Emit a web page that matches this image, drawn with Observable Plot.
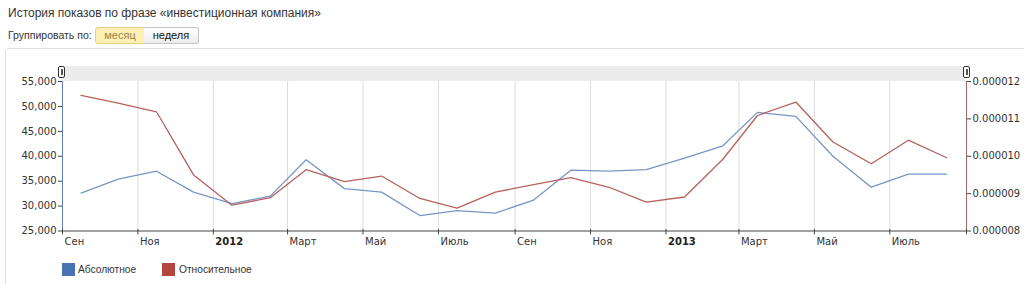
<!DOCTYPE html>
<html>
<head>
<meta charset="utf-8">
<script src="https://cdn.jsdelivr.net/npm/d3@7"></script>
<script src="https://cdn.jsdelivr.net/npm/@observablehq/plot@0.6"></script>
<style>
  html, body { margin: 0; padding: 0; background: #fff; width: 1024px; height: 284px; overflow: hidden; }
  body { position: relative; font-family: "Liberation Sans", Arial, sans-serif; }
  .abs { position: absolute; }
  #title { left: 8px; top: 7px; font-size: 12px; line-height: 12px; color: #333; white-space: nowrap; }
  #group { left: 8px; top: 30px; font-size: 10.5px; line-height: 11px; color: #333; white-space: nowrap; }
  .btn { top: 27px; height: 15px; font-size: 11px; line-height: 15px; text-align: center; box-sizing: content-box; }
  #b1 { left: 95px; width: 48px; background: #fdf0b4; border: 1px solid #e3cf86; border-radius: 3px 0 0 3px; color: #9a8444; }
  #b2 { left: 144px; width: 54px; background: linear-gradient(#ffffff, #ececec); border: 1px solid #c4c4c4; border-left: none; border-radius: 0 3px 3px 0; color: #111; }
  #box { left: 5px; top: 48px; width: 1100px; height: 300px; border: 1px solid #e0e0e0; border-radius: 3px; }
  #chart { left: 0; top: 50px; }
  .handle { top: 66px; width: 5px; height: 10px; border: 1px solid #333; border-radius: 2px; background: #fff; }
  .handle::after { content: ""; position: absolute; left: 1.5px; top: 2px; width: 2px; height: 6px; background: #555; }
  .sw { top: 263px; width: 13px; height: 13px; }
  .lt { top: 264px; font-size: 10.2px; line-height: 11px; color: #333; white-space: nowrap; }
</style>
</head>
<body>
<div id="box" class="abs"></div>
<div id="title" class="abs">История показов по фразе «инвестиционная компания»</div>
<div id="group" class="abs">Группировать по:</div>
<div id="b1" class="abs btn">месяц</div>
<div id="b2" class="abs btn">неделя</div>
<div id="chart" class="abs"></div>
<div class="abs handle" style="left:58px"></div>
<div class="abs handle" style="left:963px"></div>
<div class="abs sw" style="left:62px;background:#4a73b3"></div>
<div class="abs lt" style="left:78px">Абсолютное</div>
<div class="abs sw" style="left:162px;background:#b3463f"></div>
<div class="abs lt" style="left:179px">Относительное</div>
<script>
// ---- data ----
const periods = ["2011-09","2011-10","2011-11","2011-12","2012-01","2012-02","2012-03","2012-04","2012-05","2012-06","2012-07","2012-08",
                 "2012-09","2012-10","2012-11","2012-12","2013-01","2013-02","2013-03","2013-04","2013-05","2013-06","2013-07","2013-08"];
const absolute = [32600,35400,37000,32800,30500,32000,39300,33500,32800,28100,29100,28600,
                  31200,37200,37000,37300,39600,42100,48800,48000,40000,33800,36400,36400];
// relative share, in millionths
const relative = [11.63,11.42,11.19,9.50,8.69,8.89,9.64,9.32,9.47,8.87,8.61,9.04,
                  9.24,9.43,9.17,8.77,8.91,9.92,11.09,11.45,10.38,9.80,10.43,9.96];
const tickMonths = ["2011-09","2011-11","2012-01","2012-03","2012-05","2012-07","2012-09","2012-11","2013-01","2013-03","2013-05","2013-07"];
const tickLabels = ["Сен","Ноя","2012","Март","Май","Июль","Сен","Ноя","2013","Март","Май","Июль"];
const leftTicks = [25000,30000,35000,40000,45000,50000,55000];
const rightTickValues = [0.000008,0.000009,0.000010,0.000011,0.000012];
const rightTickLabels = ["0.000008","0.000009","0.000010","0.000011","0.000012"];
const seriesNames = ["Абсолютное","Относительное"];

// ---- build ----
const yMin = 25000, yMax = 55000, rMin = 0.000008, rMax = 0.000012;
const toLeft = r => yMin + (r - rMin) / (rMax - rMin) * (yMax - yMin);
const mid = p => new Date(p + "-16");
const start = new Date("2011-09-01"), end = new Date("2013-09-01");
const absData = periods.map((p, i) => ({date: mid(p), v: absolute[i]}));
const relData = periods.map((p, i) => ({date: mid(p), v: toLeft(relative[i] * 1e-6)}));
const ticks = tickMonths.map((m, i) => ({date: new Date(m + "-01"), label: tickLabels[i], year: /^\d{4}$/.test(tickLabels[i])}));
const rightTicks = rightTickValues.map(toLeft);

const chart = Plot.plot({
  width: 1024,
  height: 210,
  marginTop: 31,
  marginBottom: 29.5,
  marginLeft: 62,
  marginRight: 58,
  style: {fontFamily: "DejaVu Sans, Verdana, sans-serif", fontSize: "10px", color: "#333", background: "transparent", overflow: "visible"},
  x: {type: "utc", domain: [start, end], axis: null},
  y: {domain: [yMin, yMax], label: null},
  marks: [
    Plot.rect([0], {x1: () => start, x2: () => end, y1: yMax, y2: yMax + 3000, fill: "#ececec"}),
    Plot.ruleX(ticks.slice(1), {x: "date", y1: yMin, y2: yMax, stroke: "#dcdcdc"}),
    Plot.line(absData, {x: "date", y: "v", stroke: "#7895c4", strokeWidth: 1.3}),
    Plot.line(relData, {x: "date", y: "v", stroke: "#b5625c", strokeWidth: 1.3}),
    Plot.ruleX([start], {y1: yMin, y2: yMax, stroke: "#5f7fb5"}),
    Plot.ruleX([end], {y1: yMin, y2: yMax, stroke: "#9b6a6a"}),
    Plot.ruleY([yMin], {stroke: "#444"}),
    Plot.ruleX(ticks, {x: "date", y1: yMin + 300, y2: yMin - 800, stroke: "#444"}),
    Plot.ruleX([end], {y1: yMin + 300, y2: yMin - 800, stroke: "#444"}),
    Plot.axisY({ticks: leftTicks, tickFormat: d3.format(","), tickSize: 4, tickPadding: 2, anchor: "left", label: null, stroke: "#444"}),
    Plot.axisY({ticks: rightTicks, tickFormat: d => rightTickLabels[Math.round((d - yMin) / 7500)], tickSize: 4, tickPadding: 2, anchor: "right", label: null, stroke: "#444"}),
    Plot.text(ticks.filter(d => !d.year), {x: "date", y: yMin, text: "label", textAnchor: "start", dx: 2, dy: 11, fill: "#333"}),
    Plot.text(ticks.filter(d => d.year), {x: "date", y: yMin, text: "label", textAnchor: "start", dx: 2, dy: 11, fill: "#222", fontWeight: "bold"})
  ]
});
document.getElementById("chart").appendChild(chart);
</script>
</body>
</html>
